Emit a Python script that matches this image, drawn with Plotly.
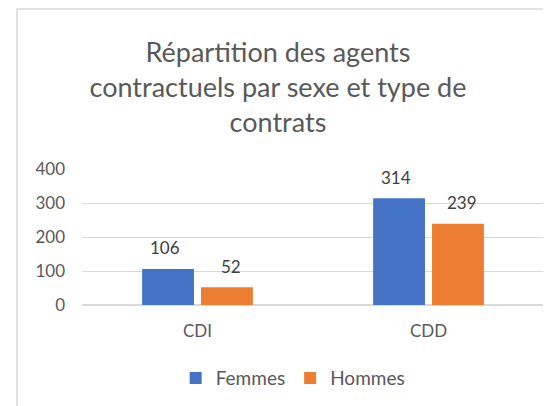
import plotly.graph_objects as go

categories = ["CDI", "CDD"]
femmes = [106, 314]
hommes = [52, 239]
series_names = ["Femmes", "Hommes"]
colors = ["#4472C4", "#ED7D31"]
y_ticks = [0, 100, 200, 300, 400]

FONT = "Lato"

fig = go.Figure()
for name, vals, col in zip(series_names, [femmes, hommes], colors):
    fig.add_trace(go.Bar(name=name, x=categories, y=vals, marker_color=col,
                         marker_line_width=0))

annotations = []
for i, vals in enumerate([femmes, hommes]):
    for c, v in zip(categories, vals):
        annotations.append(dict(x=c, y=v, xref="x", yref="y", text=str(v), showarrow=False,
                                xshift=(-33 if i == 0 else 33), yshift=21,
                                font=dict(family=FONT, size=17, color="#404040")))

fig.update_layout(
    width=551, height=406,
    margin=dict(l=74, r=15, t=161, b=109, autoexpand=False),
    paper_bgcolor="white", plot_bgcolor="white",
    barmode="group", bargap=0.49, bargroupgap=0.12,
    title=dict(text="Répartition des agents<br>contractuels par sexe et type de<br>contrats",
               x=0.49, xanchor="center", y=0.867, yanchor="middle", yref="container",
               font=dict(family=FONT, size=27, color="#595959")),
    font=dict(family=FONT, size=17, color="#595959"),
    showlegend=True,
    legend=dict(orientation="h", x=0.456, xanchor="center", y=-0.537, yanchor="middle",
                font=dict(family=FONT, size=19, color="#595959"), traceorder="normal"),
    annotations=annotations,
    shapes=[dict(type="rect", xref="paper", yref="paper", x0=-0.1407, x1=1.2,
                 y0=-1.5, y1=2.176, line=dict(color="#D9D9D9", width=1.5),
                 fillcolor="rgba(0,0,0,0)", layer="below")],
)
fig.update_yaxes(range=[0, 400], tickvals=y_ticks, showgrid=True, gridcolor="#D9D9D9",
                 gridwidth=1, zeroline=True, zerolinecolor="#D9D9D9", showline=False,
                 automargin=False,
                 ticklabelstandoff=16, tickfont=dict(family=FONT, size=17, color="#595959"))
fig.update_xaxes(showline=False, ticklabelstandoff=14, automargin=False,
                 tickfont=dict(family=FONT, size=17, color="#595959"))

fig.write_html("out.html")
